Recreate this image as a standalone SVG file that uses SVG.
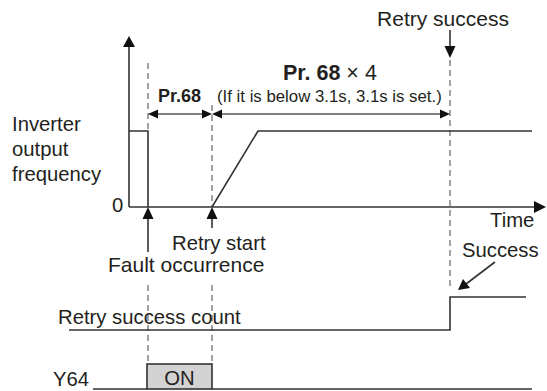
<svg xmlns="http://www.w3.org/2000/svg" width="547" height="391" viewBox="0 0 547 391">
<style>
text{font-family:"Liberation Sans",Arial,sans-serif;fill:#231f20;font-size:20.3px}
.b{font-weight:bold}
.s21{font-size:21px}
.s215{font-size:21.5px}
.s18{font-size:18px}
.s168{font-size:16.8px}
.ln{fill:none;stroke:#333;stroke-width:1.6}
.dim{fill:none;stroke:#555;stroke-width:1.4}
.dash{fill:none;stroke:#555;stroke-width:1.1;stroke-dasharray:6 4}
.ah{fill:#111;stroke:none}
</style>
<rect width="547" height="391" fill="#fff"/>
<g id="connectors">
<line class="dash" x1="148" y1="63" x2="148" y2="131"/>
<line class="dash" x1="212" y1="105" x2="212" y2="207"/>
<line class="dash" x1="450" y1="60" x2="450" y2="290"/>
<line class="dash" x1="148" y1="285" x2="148" y2="364"/>
<line class="dash" x1="212" y1="285" x2="212" y2="364"/>
<line class="dim" x1="157" y1="114" x2="203" y2="114"/>
<path class="ah" d="M148,114 L158,109.5 L158,118.5 Z"/>
<path class="ah" d="M212,114 L202,109.5 L202,118.5 Z"/>
<line class="dim" x1="221" y1="114" x2="441" y2="114"/>
<path class="ah" d="M212,114 L222,109.5 L222,118.5 Z"/>
<path class="ah" d="M450,114 L440,109.5 L440,118.5 Z"/>
<line class="ln" x1="450" y1="30" x2="450" y2="48"/>
<path class="ah" d="M450,58 L444.5,46 L455.5,46 Z"/>
<line class="ln" x1="148" y1="217" x2="148" y2="252"/>
<path class="ah" d="M148,207 L142.5,219 L153.5,219 Z"/>
<line class="ln" x1="212" y1="217" x2="212" y2="228"/>
<path class="ah" d="M212,207 L206.5,219 L217.5,219 Z"/>
<line class="ln" x1="495" y1="262" x2="466" y2="284"/>
<path class="ah" d="M458,290 L463,279 L470,288 Z"/>
</g>
<g id="axes">
<line class="ln" x1="129" y1="207" x2="129" y2="44"/>
<path class="ah" d="M129,36 L123,47 L135,47 Z"/>
<line class="ln" x1="129" y1="207" x2="536" y2="207"/>
<path class="ah" d="M546,207 L534,201 L534,213 Z"/>
</g>
<g id="frequency">
<polyline class="ln" points="129,131 148,131 148,207"/>
<polyline class="ln" points="212,207 258,131 532,131"/>
</g>
<g id="retry-count">
<polyline class="ln" points="69,330 450,330 450,297 526,297"/>
</g>
<g id="y64">
<polyline class="ln" points="93,389 147,389"/>
<rect x="147" y="364" width="65" height="25" fill="#d3d3d3" stroke="#333" stroke-width="1.6"/>
<polyline class="ln" points="212,389 532,389"/>
<text x="179.5" y="385" text-anchor="middle">ON</text>
<text x="53" y="386">Y64</text>
</g>
<g id="labels">
<text x="443" y="26" text-anchor="middle" class="s21">Retry success</text>
<text x="283" y="80" class="s215"><tspan class="b">Pr. 68</tspan> × 4</text>
<text x="158" y="102" class="b s18">Pr.68</text>
<text x="217" y="102" class="s168">(If it is below 3.1s, 3.1s is set.)</text>
<text x="12" y="131">Inverter</text>
<text x="12" y="156">output</text>
<text x="12" y="181">frequency</text>
<text x="112" y="212">0</text>
<text x="490" y="227">Time</text>
<text x="462" y="257">Success</text>
<text x="172" y="250">Retry start</text>
<text x="108" y="272" class="s21">Fault occurrence</text>
<text x="58" y="324">Retry success count</text>
</g>
</svg>
